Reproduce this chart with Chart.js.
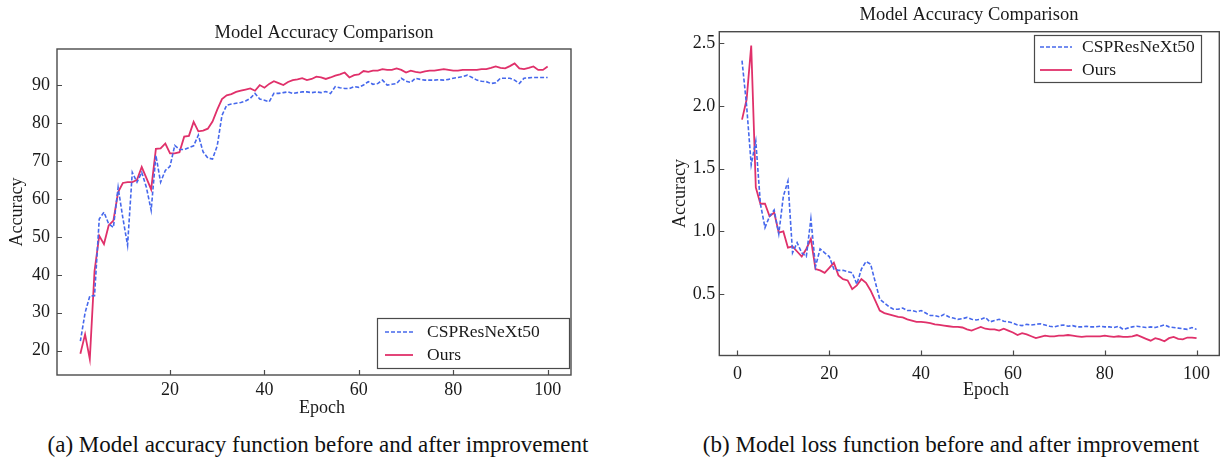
<!DOCTYPE html>
<html><head><meta charset="utf-8">
<script src="https://cdn.jsdelivr.net/npm/chart.js@4.4.1/dist/chart.umd.min.js"></script>
<style>
html,body{margin:0;padding:0;background:#fff;width:1223px;height:460px;overflow:hidden;}
#c1{position:absolute;left:0;top:0;}
#c2{position:absolute;left:640px;top:0;}
.cap{position:absolute;top:430px;font-family:'Liberation Serif','Times New Roman',serif;font-size:23px;color:#111;white-space:nowrap;transform:translateX(-50%);line-height:30px}
</style></head><body>
<canvas id="c1" width="600" height="430"></canvas>
<canvas id="c2" width="583" height="430"></canvas>
<div class="cap" style="left:318px">(a) Model accuracy function before and after improvement</div>
<div class="cap" style="left:951px">(b) Model loss function before and after improvement</div>
<script>
// ---------- data ----------
const epochs = Array.from({length: 100}, (_, i) => i + 1);
const seriesNames = ['CSPResNeXt50', 'Ours'];
const chartTitle = 'Model Accuracy Comparison';
const xAxisLabel = 'Epoch';
const yAxisLabel = 'Accuracy';

const accBaseline = [
  22.5, 30, 34.4, 34.5, 54.7, 56.5, 53.4, 52.5, 63, 55,
  47.8, 67, 64.4, 67, 63, 57, 71.5, 64.4, 67.5, 68.6,
  74.1, 73, 73, 73.5, 74, 76.8, 72.4, 70.8, 70.5, 74,
  82, 84.7, 85, 85.2, 85.4, 85.8, 86.5, 87.8, 86.3, 86,
  85.6, 87.8, 87.8, 88, 88.2, 87.8, 88, 88.2, 88.2, 88,
  88.2, 88, 88.3, 87.8, 89.6, 89.3, 89.1, 89.1, 89.6, 89.4,
  90, 90.9, 90.2, 90.4, 91.3, 90, 90.2, 90.4, 91.8, 91,
  90.7, 91.8, 91.5, 91.3, 91.3, 91.3, 91.4, 91.3, 91.5, 91.8,
  92, 92.2, 92.6, 92, 91.3, 91, 90.9, 90.4, 90.6, 91.8,
  91.8, 91.8, 91.3, 90.4, 91.8, 91.9, 92, 92, 92, 92
];
const accOurs = [
  19.2, 24.3, 17.8, 41, 50.3, 48.1, 53, 54.3, 61.8, 64.2,
  64.4, 64.4, 65, 68.4, 65.5, 62.5, 73.2, 73.3, 74.6, 72,
  72, 72.3, 76.4, 76.6, 80.3, 77.8, 78, 78.5, 80.4, 83.5,
  86.3, 87.3, 87.6, 88.2, 88.5, 88.8, 89.1, 88.5, 90, 89.3,
  90.3, 91, 90.5, 90, 90.8, 91.3, 91.5, 91.8, 91.3, 91.6,
  92.2, 92, 91.6, 92, 92.5, 92.8, 93.3, 92, 92.6, 92.8,
  93.7, 93.5, 93.8, 93.8, 94.2, 94, 94, 94.4, 94, 93.3,
  93.8, 93.5, 93.3, 93.6, 93.8, 93.8, 94, 94.2, 94, 93.8,
  93.8, 94, 94, 94, 94, 94.2, 94.2, 94.5, 94.9, 94.5,
  94.4, 95, 95.7, 94.4, 94.2, 94.5, 94.9, 94, 94, 94.9
];
const lossBaseline = [
  2.36, 2.0, 1.53, 1.72, 1.22, 1.03, 1.12, 1.17, 0.98, 1.28,
  1.40, 0.83, 0.91, 0.83, 0.80, 1.10, 0.72, 0.86, 0.83, 0.80,
  0.70, 0.69, 0.69, 0.68, 0.67, 0.58, 0.70, 0.76, 0.74, 0.60,
  0.46, 0.43, 0.40, 0.38, 0.38, 0.39, 0.37, 0.37, 0.36, 0.37,
  0.35, 0.33, 0.33, 0.32, 0.34, 0.32, 0.31, 0.30, 0.305, 0.315,
  0.30, 0.295, 0.30, 0.315, 0.28, 0.29, 0.30, 0.285, 0.28, 0.27,
  0.255, 0.25, 0.26, 0.255, 0.26, 0.265, 0.255, 0.245, 0.24, 0.25,
  0.255, 0.245, 0.25, 0.24, 0.24, 0.245, 0.24, 0.24, 0.245, 0.24,
  0.24, 0.235, 0.245, 0.22, 0.23, 0.24, 0.245, 0.24, 0.235, 0.24,
  0.235, 0.245, 0.255, 0.24, 0.235, 0.23, 0.225, 0.22, 0.235, 0.22
];
const lossOurs = [
  1.89, 2.05, 2.48, 1.35, 1.22, 1.22, 1.12, 1.15, 0.99, 1.0,
  0.87, 0.88, 0.84, 0.80, 0.86, 0.94, 0.70, 0.69, 0.67, 0.71,
  0.75, 0.65, 0.62, 0.61, 0.54, 0.57, 0.62, 0.59, 0.53, 0.45,
  0.37, 0.35, 0.34, 0.33, 0.32, 0.315, 0.30, 0.29, 0.28, 0.28,
  0.275, 0.27, 0.26, 0.255, 0.25, 0.245, 0.24, 0.24, 0.235, 0.22,
  0.21, 0.225, 0.24, 0.225, 0.22, 0.22, 0.21, 0.225, 0.21, 0.195,
  0.175, 0.19, 0.18, 0.165, 0.15, 0.16, 0.17, 0.165, 0.165, 0.17,
  0.17, 0.175, 0.17, 0.165, 0.16, 0.165, 0.165, 0.165, 0.165, 0.17,
  0.165, 0.16, 0.165, 0.16, 0.16, 0.165, 0.175, 0.16, 0.145, 0.13,
  0.15, 0.14, 0.125, 0.15, 0.16, 0.145, 0.14, 0.155, 0.155, 0.15
];

const accXTicks = [20, 40, 60, 80, 100];
const accYTicks = [20, 30, 40, 50, 60, 70, 80, 90];
const lossXTicks = [0, 20, 40, 60, 80, 100];
const lossYTicks = [0.5, 1.0, 1.5, 2.0, 2.5];

// ---------- styling ----------
const SERIF = "'Liberation Serif', 'Times New Roman', serif";
const BLUE = '#4668ec';
const RED = '#e0306a';
const TXT = '#1a1a1a';
const AXIS = '#4a4a4a';

const framePlugin = {
  id: 'frame',
  afterDatasetsDraw(chart, args, opts) {
    const {ctx, chartArea: a, scales} = chart;
    ctx.save();
    ctx.strokeStyle = AXIS;
    ctx.lineWidth = 1.4;
    ctx.strokeRect(a.left, a.top, a.right - a.left, a.bottom - a.top);
    ctx.lineWidth = 1.2;
    ctx.beginPath();
    scales.x.ticks.forEach(t => {
      const px = Math.round(scales.x.getPixelForValue(t.value)) + 0.5;
      ctx.moveTo(px, a.bottom); ctx.lineTo(px, a.bottom - 5);
    });
    scales.y.ticks.forEach(t => {
      const py = Math.round(scales.y.getPixelForValue(t.value)) + 0.5;
      ctx.moveTo(a.left, py); ctx.lineTo(a.left + 5, py);
    });
    ctx.stroke();

    // title and x-axis label (placed as in the reference)
    ctx.fillStyle = TXT;
    ctx.textAlign = 'center';
    ctx.textBaseline = 'middle';
    ctx.font = opts.titleFont + 'px ' + SERIF;
    ctx.fillText(chartTitle, opts.titleX, opts.titleY);
    ctx.font = '18px ' + SERIF;
    ctx.fillText(xAxisLabel, opts.xLabelX, opts.xLabelY);

    // legend
    const L = opts.legend;
    ctx.fillStyle = '#fff';
    ctx.fillRect(L.x, L.y, L.w, L.h);
    ctx.strokeStyle = AXIS;
    ctx.lineWidth = 1.2;
    ctx.strokeRect(L.x + 0.5, L.y + 0.5, L.w, L.h);
    chart.data.datasets.forEach((ds, i) => {
      const y = L.y + L.row0 + i * L.gap;
      ctx.strokeStyle = ds.borderColor;
      ctx.lineWidth = ds.borderWidth;
      ctx.setLineDash(ds.borderDash || []);
      ctx.beginPath();
      ctx.moveTo(L.x + L.s0, y); ctx.lineTo(L.x + L.s1, y);
      ctx.stroke();
      ctx.setLineDash([]);
      ctx.fillStyle = TXT;
      ctx.font = L.font + 'px ' + SERIF;
      ctx.textBaseline = 'middle';
      ctx.textAlign = 'left';
      ctx.fillText(ds.label, L.x + L.tx, y);
    });
    ctx.restore();
  }
};

function makeDatasets(base, ours) {
  return [
    {label: seriesNames[0], data: epochs.map((e, i) => ({x: e, y: base[i]})),
     borderColor: BLUE, borderWidth: 1.6, borderDash: [4, 2], pointRadius: 0, tension: 0, fill: false},
    {label: seriesNames[1], data: epochs.map((e, i) => ({x: e, y: ours[i]})),
     borderColor: RED, borderWidth: 1.8, pointRadius: 0, tension: 0, fill: false}
  ];
}

function makeChart(id, cfg) {
  return new Chart(document.getElementById(id), {
    type: 'line',
    data: {datasets: makeDatasets(cfg.base, cfg.ours)},
    plugins: [framePlugin],
    options: {
      responsive: false, animation: false, devicePixelRatio: 1,
      layout: {padding: {left: 0, top: cfg.padTop, right: cfg.padRight, bottom: 0}},
      plugins: {
        legend: {display: false},
        tooltip: {enabled: false},
        title: {display: false},
        frame: {legend: cfg.legend, titleX: cfg.titleX, titleY: cfg.titleY, titleFont: 18.5,
                xLabelX: cfg.xLabelX, xLabelY: cfg.xLabelY}
      },
      scales: {
        x: {
          type: 'linear', min: cfg.xMin, max: cfg.xMax,
          afterBuildTicks: s => { s.ticks = cfg.xTicks.map(v => ({value: v})); },
          afterFit: s => { s.height = cfg.xHeight; },
          grid: {display: false, drawTicks: false},
          border: {display: false},
          ticks: {color: TXT, font: {family: SERIF, size: 18}, padding: cfg.xTickPad, maxRotation: 0},
          title: {display: false}
        },
        y: {
          type: 'linear', min: cfg.yMin, max: cfg.yMax,
          afterBuildTicks: s => { s.ticks = cfg.yTicks.map(v => ({value: v})); },
          afterFit: s => { s.width = cfg.yWidth; },
          grid: {display: false, drawTicks: false},
          border: {display: false},
          ticks: {color: TXT, font: {family: SERIF, size: 18}, padding: cfg.yTickPad,
                  callback: cfg.yFmt},
          title: {display: true, text: yAxisLabel, color: TXT, font: {family: SERIF, size: 18},
                  padding: {top: cfg.yTitlePad, bottom: 0}}
        }
      }
    }
  });
}

makeChart('c1', {
  base: accBaseline, ours: accOurs,
  xMin: -3.95, xMax: 104.95, yMin: 13.6, yMax: 99.5,
  xTicks: accXTicks, yTicks: accYTicks, yFmt: v => String(v),
  padTop: 49, padRight: 29,
  titleX: 324, titleY: 33, xLabelX: 322, xLabelY: 408,
  xHeight: 55, xTickPad: 4,
  yWidth: 57, yTickPad: 7, yTitlePad: 6,
  legend: {x: 377, y: 318, w: 192, h: 50, row0: 14, gap: 23, s0: 8, s1: 36, tx: 50, font: 17.5}
});

makeChart('c2', {
  base: lossBaseline, ours: lossOurs,
  xMin: -3.95, xMax: 104.95, yMin: 0.012, yMax: 2.59,
  xTicks: lossXTicks, yTicks: lossYTicks, yFmt: v => v.toFixed(1),
  padTop: 31.7, padRight: 3.7,
  titleX: 329, titleY: 15, xLabelX: 346, xLabelY: 390,
  xHeight: 74.5, xTickPad: 8,
  yWidth: 79.3, yTickPad: 4, yTitlePad: 29,
  legend: {x: 394, y: 35, w: 167, h: 47, row0: 12, gap: 23, s0: 6, s1: 38, tx: 48, font: 17.5}
});
</script>
</body></html>
